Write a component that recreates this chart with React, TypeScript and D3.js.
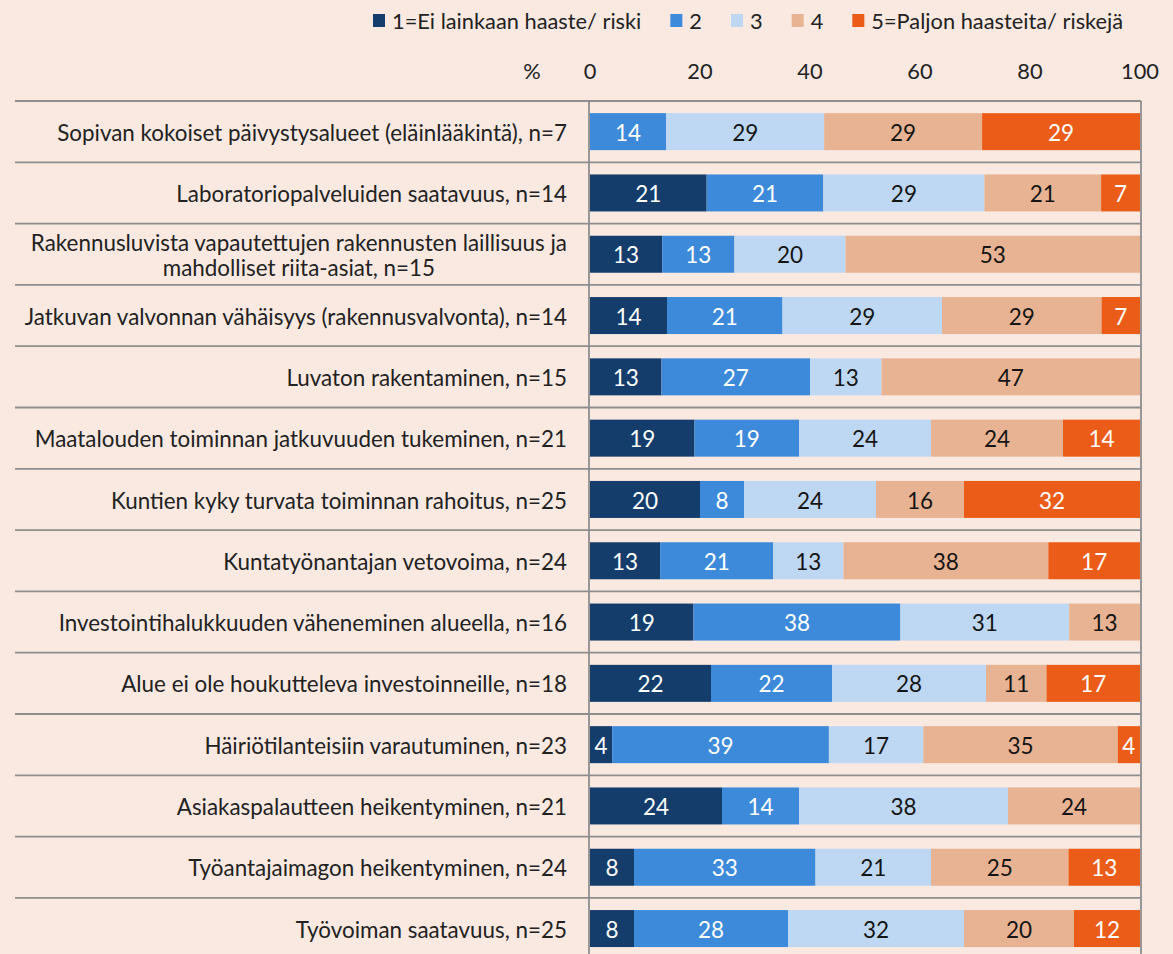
import { useEffect, useRef } from 'react'
import * as d3 from 'd3'

const W = 1173
const H = 954
const FONT = 'Lato, "Open Sans", sans-serif'
const BG = '#f9e9e1'

const CATEGORIES = [
  'Sopivan kokoiset päivystysalueet (eläinlääkintä), n=7',
  'Laboratoriopalveluiden saatavuus, n=14',
  'Rakennusluvista vapautettujen rakennusten laillisuus ja\nmahdolliset riita-asiat, n=15',
  'Jatkuvan valvonnan vähäisyys (rakennusvalvonta), n=14',
  'Luvaton rakentaminen, n=15',
  'Maatalouden toiminnan jatkuvuuden tukeminen, n=21',
  'Kuntien kyky turvata toiminnan rahoitus, n=25',
  'Kuntatyönantajan vetovoima, n=24',
  'Investointihalukkuuden väheneminen alueella, n=16',
  'Alue ei ole houkutteleva investoinneille, n=18',
  'Häiriötilanteisiin varautuminen, n=23',
  'Asiakaspalautteen heikentyminen, n=21',
  'Työantajaimagon heikentyminen, n=24',
  'Työvoiman saatavuus, n=25',
]
const SERIES = ['1=Ei lainkaan haaste/ riski', '2', '3', '4', '5=Paljon haasteita/ riskejä']
const S1 = [0, 21, 13, 14, 13, 19, 20, 13, 19, 22, 4, 24, 8, 8]
const S2 = [14, 21, 13, 21, 27, 19, 8, 21, 38, 22, 39, 14, 33, 28]
const S3 = [29, 29, 20, 29, 13, 24, 24, 13, 31, 28, 17, 38, 21, 32]
const S4 = [29, 21, 53, 29, 47, 24, 16, 38, 13, 11, 35, 24, 25, 20]
const S5 = [29, 7, 0, 7, 0, 14, 32, 17, 0, 17, 4, 0, 13, 12]
const TICKS = [0, 20, 40, 60, 80, 100]

const COLORS = ['#143d6b', '#3c8ad9', '#bed8f3', '#e8b393', '#eb5c18']
const TEXT_COLORS = ['#ffffff', '#ffffff', '#151515', '#151515', '#ffffff']

export default function App() {
  const svgRef = useRef<SVGSVGElement>(null)

  useEffect(() => {
    const svg = d3.select(svgRef.current)
    svg.selectAll('*').remove()

    const keys = ['s1', 's2', 's3', 's4', 's5']
    const cols = [S1, S2, S3, S4, S5]
    const rows = CATEGORIES.map((c, i) => {
      const r: any = { cat: c }
      keys.forEach((k, j) => { r[k] = cols[j][i] })
      return r
    })

    // the bars are drawn as shares of each row's total
    const stack = d3.stack().keys(keys).offset(d3.stackOffsetExpand)
    const layers = stack(rows)

    const x = d3.scaleLinear().domain([0, 1]).range([590, 1140])
    const y = d3.scaleBand<number>().domain(d3.range(CATEGORIES.length)).range([101, 101 + CATEGORIES.length * 61.3])
    const barH = 37

    svg.append('rect').attr('width', W).attr('height', H).attr('fill', BG)

    // legend
    const lg = svg.append('g').attr('font-family', FONT).attr('font-size', 21.8).attr('fill', '#222')
    let lx = 373
    SERIES.forEach((s, i) => {
      lg.append('rect').attr('x', lx).attr('y', 14).attr('width', 12).attr('height', 13).attr('fill', COLORS[i])
      const t = lg.append('text').attr('x', lx + 19).attr('y', 21).attr('dy', '0.36em').text(s)
      const w = (t.node() as SVGTextElement).getComputedTextLength()
      lx += 19 + w + 29
    })

    // axis labels on top
    const ax = svg.append('g').attr('font-family', FONT).attr('font-size', 21.8).attr('fill', '#222').attr('text-anchor', 'middle')
    ax.append('text').attr('x', 532).attr('y', 71).attr('dy', '0.36em').text('%')
    ax.selectAll('text.tick').data(TICKS).join('text').attr('class', 'tick')
      .attr('x', d => x(d / 100)).attr('y', 71).attr('dy', '0.36em').text(d => d)

    // bars
    layers.forEach((layer, li) => {
      const g = svg.append('g')
      layer.forEach((d, i) => {
        const v = cols[li][i]
        if (!v) return
        const yc = (y(i) as number) + y.bandwidth() / 2
        g.append('rect').attr('x', x(d[0])).attr('y', yc - barH / 2)
          .attr('width', x(d[1]) - x(d[0])).attr('height', barH).attr('fill', COLORS[li])
        g.append('text').attr('x', (x(d[0]) + x(d[1])) / 2).attr('y', yc + 1).attr('dy', '0.36em')
          .attr('text-anchor', 'middle').attr('font-family', FONT).attr('font-size', 22.5)
          .attr('fill', TEXT_COLORS[li]).text(v)
      })
    })

    // grid lines
    const grid = svg.append('g').attr('stroke', '#8e8e8e').attr('stroke-width', 1.8)
    const bounds = d3.range(CATEGORIES.length + 1).map(i => 101 + i * y.step())
    grid.selectAll('line.h').data(bounds).join('line').attr('class', 'h')
      .attr('x1', 15).attr('x2', 1141).attr('y1', d => d).attr('y2', d => d)
    grid.append('line').attr('x1', 589).attr('x2', 589).attr('y1', 101).attr('y2', H)
    grid.append('line').attr('x1', 1141).attr('x2', 1141).attr('y1', 101).attr('y2', H)

    // category labels
    const lab = svg.append('g').attr('font-family', FONT).attr('font-size', 22.4).attr('fill', '#222')
    CATEGORIES.forEach((c, i) => {
      const yc = (y(i) as number) + y.bandwidth() / 2 + 1
      const lines = c.split('\n')
      const lh = 25
      const ts = lines.map((l, k) => lab.append('text')
        .attr('y', yc + (k - (lines.length - 1) / 2) * lh).attr('dy', '0.36em').text(l))
      const widths = ts.map(t => (t.node() as SVGTextElement).getComputedTextLength())
      const maxW = d3.max(widths) as number
      ts.forEach(t => t.attr('x', 567 - maxW / 2).attr('text-anchor', 'middle'))
    })
  }, [])

  return (
    <svg ref={svgRef} width={W} height={H}
      style={{ position: 'absolute', left: 0, top: 0, display: 'block' }} />
  )
}
